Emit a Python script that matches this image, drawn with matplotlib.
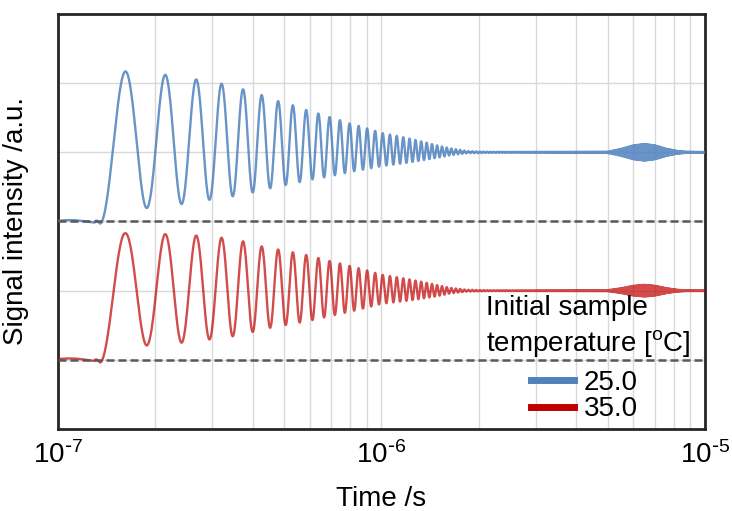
import numpy as np
import matplotlib
matplotlib.use("Agg")
matplotlib.rcParams.update({
    "font.family": ["Liberation Sans", "DejaVu Sans"],
    "mathtext.default": "regular",
    "font.size": 20,
})
import matplotlib.pyplot as plt
from matplotlib.lines import Line2D
from matplotlib.ticker import LogLocator, NullFormatter

# ---- values ----
labels = ["25.0", "35.0"]
colors = ["#4F81BD", "#C00000"]
baselines = [3.0, 1.0]                # dashed zero lines of each trace

first_peak_s = 1.62e-7                # time of first maximum
period_s = 5.3e-8                     # spacing of successive maxima

center_time = [1.0e-7, 1.30e-7, 1.355e-7, 1.62e-7, 3.0e-7, 5.0e-7, 7.0e-7,
               1.0e-6, 1.5e-6, 2.0e-6, 1.0e-5]
center_25 = [3.0, 3.0, 4.07, 4.17, 4.17, 4.12, 4.08, 4.04, 4.01, 4.0, 4.0]
center_35 = [1.0, 1.0, 1.95, 2.01, 2.04, 2.04, 2.03, 2.02, 2.0, 2.0, 2.0]

env_time = [1.0e-7, 1.30e-7, 1.355e-7, 1.62e-7, 2.16e-7, 2.67e-7, 3.19e-7,
            3.74e-7, 4.26e-7, 4.80e-7, 5.33e-7, 5.86e-7, 6.9e-7, 8.0e-7,
            1.0e-6, 1.23e-6, 1.45e-6, 1.63e-6, 1.84e-6, 2.2e-6, 5.0e-6,
            5.5e-6, 6.0e-6, 6.5e-6, 7.0e-6, 7.6e-6, 8.2e-6, 8.7e-6, 1.0e-5]
env_25 = [0.02, 0.02, 1.10, 1.00, 0.95, 0.885, 0.83, 0.76, 0.69, 0.615,
          0.567, 0.51, 0.43, 0.35, 0.24, 0.17, 0.10, 0.05, 0.015, 0.008,
          0.01, 0.05, 0.10, 0.12, 0.10, 0.05, 0.02, 0.008, 0.005]
env_35 = [0.02, 0.02, 0.99, 0.82, 0.795, 0.764, 0.727, 0.673, 0.60, 0.555,
          0.516, 0.48, 0.40, 0.33, 0.21, 0.15, 0.09, 0.04, 0.012, 0.006,
          0.008, 0.035, 0.07, 0.085, 0.07, 0.035, 0.012, 0.006, 0.005]

xtick_vals = [1e-7, 1e-6, 1e-5]
xtick_labels = [r"$10^{\text{-}7}$", r"$10^{\text{-}6}$", r"$10^{\text{-}5}$"]

t = np.linspace(1e-7, 1e-5, 40000)
carrier = np.cos(2 * np.pi * (t - first_peak_s) / period_s)
sig_25 = np.interp(t, center_time, center_25) + np.interp(t, env_time, env_25) * carrier
sig_35 = np.interp(t, center_time, center_35) + np.interp(t, env_time, env_35) * carrier

fig = plt.figure(figsize=(7.32, 5.11), dpi=100)
ax = fig.add_axes([0.0788, 0.1605, 0.8843, 0.8121])

ax.set_xscale("log")
ax.set_xlim(1e-7, 1e-5)
ax.set_ylim(0, 6)

ax.plot(t, sig_25, color=colors[0], lw=1.7, alpha=0.85, zorder=3)
ax.plot(t, sig_35, color=colors[1], lw=1.7, alpha=0.7, zorder=3)
for b in baselines:
    ax.axhline(b, color="#595959", lw=1.8, dashes=(3.2, 1.6), zorder=4)

ax.set_xticks(xtick_vals)
ax.set_xticklabels(xtick_labels)
ax.xaxis.set_minor_locator(LogLocator(base=10, subs=np.arange(2, 10)))
ax.xaxis.set_minor_formatter(NullFormatter())
ax.set_yticks([1, 2, 3, 4, 5])
ax.set_yticklabels([])
ax.tick_params(which="both", length=0, pad=9)
ax.grid(True, which="both", color="#D9D9D9", lw=1)
ax.set_axisbelow(True)
for s in ax.spines.values():
    s.set_linewidth(2)
    s.set_color("#262626")

ax.set_xlabel("Time /s", labelpad=12)
ax.set_ylabel("Signal intensity /a.u.", labelpad=12)

ax.text(0.662, 0.2916, "Initial sample", transform=ax.transAxes,
        ha="left", va="center", zorder=5)
ax.text(0.662, 0.2048, r"temperature [$^{o}$C]", transform=ax.transAxes,
        ha="left", va="center", zorder=5)
handles = [Line2D([], [], color=c, lw=5) for c in colors]
ax.legend(handles, labels, loc="center left", bbox_to_anchor=(0.7314, 0.0795),
          frameon=False, borderpad=0, borderaxespad=0, handlelength=1.55,
          handletextpad=0.35, labelspacing=0.02)

fig.savefig("out.png", dpi=100)
